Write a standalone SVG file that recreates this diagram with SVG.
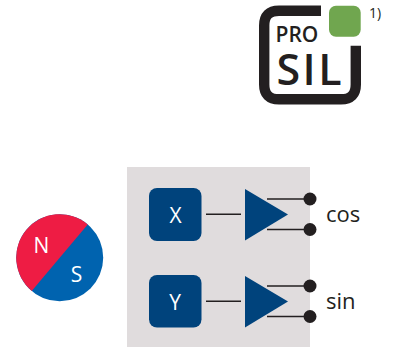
<svg xmlns="http://www.w3.org/2000/svg" width="393" height="347" viewBox="0 0 393 347">
<style>
text{font-family:"Open Sans","Noto Sans","Liberation Sans",sans-serif}
.box{fill:#00437c}
.lbl{fill:#fff;font-size:21px;text-anchor:middle;font-weight:400}
.out{fill:#231f20;font-size:22px;font-weight:400}
.ln{stroke:#231f20;stroke-width:1.5;fill:none}
.dot{fill:#231f20}
.logo{fill:#231f20}
</style>
<rect id="panel" x="127" y="167" width="183" height="180" fill="#e0dcdd"/>
<g id="logo">
<path d="M321,10.7H279Q264.200,10.700 264.200,25.500V84.500Q264.200,99.300 279,99.300H341Q355.800,99.300 355.800,84.500V45.700" fill="none" stroke="#231f20" stroke-width="10.400"/>
<rect x="329" y="5.700" width="31.700" height="31" rx="7" fill="#70a64f"/>
<text class="logo" x="275.500" y="41.500" font-size="21" font-weight="600">PRO</text>
<text class="logo" x="276.500" y="85" font-size="43" font-weight="600" textLength="65" lengthAdjust="spacing">SIL</text>
<text class="logo" x="369" y="18" font-size="14" font-weight="400">1)</text>
</g>
<g id="magnet">
<circle cx="59.700" cy="257.700" r="43.500" fill="#0063af"/>
<path d="M87.700,224.400A43.500,43.500 0 0 0 31.700,291Z" fill="#ee1c44"/>
<text class="lbl" x="41.500" y="253">N</text>
<text class="lbl" x="76.500" y="282">S</text>
</g>
<g id="connectors">
<path class="ln" d="M206,214.300H241M206,301.300H241M267,199H310M267,229.500H310M267,286H310M267,316.500H310"/>
</g>
<g id="x-sensor">
<rect class="box" x="149" y="188" width="52.500" height="53" rx="8"/>
<text class="lbl" x="175.500" y="222.500">X</text>
</g>
<g id="y-sensor">
<rect class="box" x="149" y="275" width="52.500" height="52.500" rx="8"/>
<text class="lbl" x="175" y="309.500">Y</text>
</g>
<g id="amp-cos"><path class="box" d="M245,189V240.500L288,214.500Z"/></g>
<g id="amp-sin"><path class="box" d="M245,276V327.500L288,301.500Z"/></g>
<g id="outputs">
<circle class="dot" cx="310" cy="199" r="6.500"/>
<circle class="dot" cx="310" cy="229.500" r="6.500"/>
<circle class="dot" cx="310" cy="286" r="6.500"/>
<circle class="dot" cx="310" cy="316.500" r="6.500"/>
<text class="out" x="326" y="222">cos</text>
<text class="out" x="326" y="309">sin</text>
</g>
</svg>
